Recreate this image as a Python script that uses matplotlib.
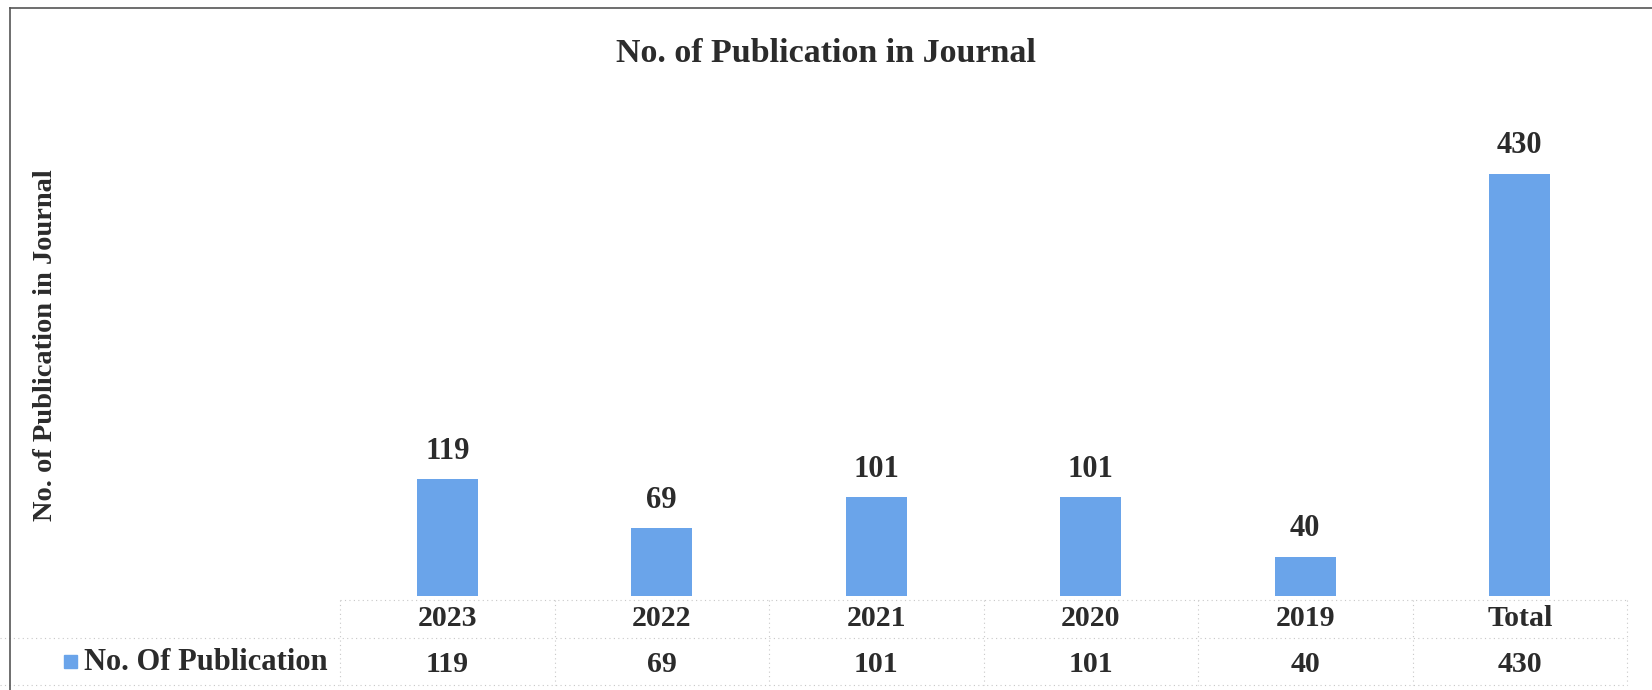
import matplotlib
matplotlib.use("Agg")
import matplotlib.pyplot as plt
import matplotlib.transforms as mtransforms
import numpy as np

CATEGORIES = ["2023", "2022", "2021", "2020", "2019", "Total"]
PUBLICATIONS = [119, 69, 101, 101, 40, 430]
SERIES_NAME = "No. Of Publication"
TITLE = "No. of Publication in Journal"
YLABEL = "No. of Publication in Journal"

BAR_COLOR = "#6aa4ea"
TEXT_COLOR = "#2b2b2b"

plt.rcParams["font.family"] = ["Liberation Serif", "DejaVu Serif"]
plt.rcParams["font.weight"] = "bold"

W, H = 1652, 690
fig = plt.figure(figsize=(W / 100, H / 100), dpi=100)
fig.patch.set_facecolor("white")

# plot area: baseline at ~596 px, categories ~215 px apart
ax = fig.add_axes([340 / W, 1 - 596 / H, 1287 / W, 497 / H])
x = np.arange(len(CATEGORIES))
ax.bar(x, PUBLICATIONS, width=0.285, color=BAR_COLOR)
ax.set_xlim(-0.5, len(CATEGORIES) - 0.5)
ax.set_ylim(0, 506)
for s in ax.spines.values():
    s.set_visible(False)
ax.set_xticks([]); ax.set_yticks([])

for xi, v in zip(x, PUBLICATIONS):
    ax.annotate(str(v), (xi, v), xytext=(0, 20), textcoords="offset points",
                ha="center", va="center", fontsize=22, fontweight="bold", color=TEXT_COLOR)

# title and y label
fig.text(0.5, 1 - 54 / H, TITLE, ha="center", va="center", fontsize=24.5,
         fontweight="bold", color=TEXT_COLOR)
fig.text(46 / W, 1 - 345 / H, YLABEL, ha="center", va="center", rotation=90,
         fontsize=20.5, fontweight="bold", color=TEXT_COLOR)

# data table under the axis
tr = mtransforms.blended_transform_factory(ax.transData, fig.transFigure)
for xi, cat, v in zip(x, CATEGORIES, PUBLICATIONS):
    ax.text(xi, 1 - 619 / H, cat, transform=tr, ha="center", va="center",
            fontsize=21.5, fontweight="bold", color=TEXT_COLOR, clip_on=False)
    ax.text(xi, 1 - 664 / H, str(v), transform=tr, ha="center", va="center",
            fontsize=21.5, fontweight="bold", color=TEXT_COLOR, clip_on=False)
fig.text(84 / W, 1 - 662 / H, SERIES_NAME, ha="left", va="center", fontsize=22,
         fontweight="bold", color=TEXT_COLOR)
fig.patches.append(plt.Rectangle((64 / W, 1 - 668 / H), 13 / W, 13 / H,
                                 transform=fig.transFigure, color=BAR_COLOR))

# faint dotted grid of the data table
grid_kw = dict(color="#c8c8c8", lw=0.8, ls=(0, (1, 3)), transform=fig.transFigure)
fig.add_artist(plt.Line2D([340 / W, 1627 / W], [1 - 600 / H] * 2, **grid_kw))
fig.add_artist(plt.Line2D([0 / W, 1627 / W], [1 - 638 / H] * 2, **grid_kw))
fig.add_artist(plt.Line2D([0 / W, 1627 / W], [1 - 685 / H] * 2, **grid_kw))
for b in np.arange(-0.5, len(CATEGORIES)):
    xf = fig.transFigure.inverted().transform(ax.transData.transform((b, 0)))[0]
    fig.add_artist(plt.Line2D([xf, xf], [1 - 600 / H, 1 - 685 / H], **grid_kw))

# chart border (top and left edges visible in the scan)
border_kw = dict(color="#555555", lw=1.2, transform=fig.transFigure)
fig.add_artist(plt.Line2D([10 / W, 1], [1 - 8 / H] * 2, **border_kw))
fig.add_artist(plt.Line2D([10 / W, 10 / W], [1 - 8 / H, 0], **border_kw))

fig.savefig("out.png", dpi=100)
